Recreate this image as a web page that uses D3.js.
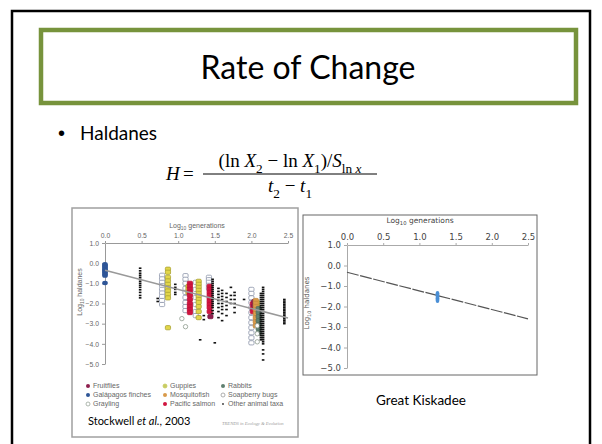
<!DOCTYPE html>
<html><head><meta charset="utf-8">
<script src="https://cdn.jsdelivr.net/npm/d3@7"></script>
<style>body{margin:0;background:#fff}svg{display:block}text{white-space:pre}</style>
</head><body>
<svg id="c" width="602" height="444"></svg>
<script>
// ---------- data ----------
const xTickVals = [0.0, 0.5, 1.0, 1.5, 2.0, 2.5];
const yTickVals = [1.0, 0.0, -1.0, -2.0, -3.0, -4.0, -5.0];
const trendLeft = [[0, -0.35], [2.5, -2.72]];
const trendRight = [[0, -0.33], [2.5, -2.6]];
const kiskadee = [[1.25, [-1.35, -1.42, -1.48, -1.54, -1.6, -1.66, -1.72]]];
const finches = [[0.0, [-0.05, -0.12, -0.18, -0.24, -0.3, -0.36, -0.42, -0.48, -0.55, -0.62, -0.98]]];
const soapberry = [
  [0.78, [-0.6, -0.78, -0.95, -1.12, -1.3, -1.48, -1.65, -1.85, -2.05]],
  [1.1, [-0.62, -0.8, -1.0, -1.25, -1.45, -1.7, -1.95, -2.15, -2.35]],
  [1.24, [-0.95, -1.3, -1.7, -2.05, -2.4, -2.6]],
  [1.42, [-0.7, -0.82, -0.95, -1.1, -1.25]],
  [2.0, [-1.3, -1.5, -1.72, -1.95, -2.2, -2.45, -2.7, -2.95, -3.2, -3.45, -3.7, -3.95]]
];
const guppies = [
  [0.86, [-0.3, -0.45, -0.7, -0.88, -1.05, -1.22, -1.38, -1.55, -1.72, -3.2]],
  [1.14, [-1.15, -1.3, -1.45]],
  [1.28, [-0.9, -1.05, -1.2, -1.35, -1.5, -1.65, -1.8, -1.95, -2.15, -2.4, -2.7]],
  [2.08, [-1.95, -2.15, -2.35, -2.55]]
];
const salmon = [
  [1.16, [-1.0, -1.15, -1.3, -1.45, -1.6, -1.8, -2.0, -2.15, -2.3, -2.45]],
  [1.43, [-1.15, -1.3, -1.45, -1.6, -1.75, -1.9, -2.05, -2.2, -2.4]],
  [2.02, [-2.0, -2.2, -2.4]]
];
const fruitflies = [[1.44, [-2.65]], [2.04, [-1.9, -2.1]]];
const mosquitofish = [[2.06, [-1.85, -2.0, -2.15, -2.3, -2.5, -2.7, -2.9, -3.1]]];
const rabbits = [[2.1, [-2.25, -2.45, -2.65, -2.85, -3.05, -3.25, -3.45]]];
const grayling = [[1.05, [-2.75]], [1.1, [-3.15]], [2.08, [-3.1, -3.5, -3.9]]];
const otherTaxa = [
  [0.48, [-0.25, -0.38, -0.5, -0.6, -0.7, -0.8, -0.9, -1.0, -1.1, -1.2, -1.32, -1.45, -1.6, -1.72]],
  [0.72, [-1.75, -1.9]],
  [0.96, [-1.05, -1.2, -1.3, -1.45, -1.55]],
  [1.3, [-3.8]], [1.5, [-3.95]], [1.35, [-2.6, -2.8]],
  [1.47, [-0.8, -0.9, -1.0, -1.1, -1.2, -1.3, -1.4, -1.5, -1.6, -1.7, -1.8, -1.9, -2.0, -2.1, -2.2, -2.35, -2.5]],
  [1.55, [-1.25, -1.4, -1.55, -1.7, -1.85, -2.0, -2.2, -2.4, -2.7]],
  [1.6, [-1.35, -1.5, -1.65, -1.8, -2.0, -2.15, -2.3, -2.5, -2.85]],
  [1.66, [-1.5, -1.7, -1.9, -2.1, -2.3, -2.6]],
  [1.72, [-1.2, -1.6, -1.8, -2.0]],
  [1.77, [-1.45, -1.6, -1.8, -2.0, -2.2, -2.45]],
  [1.9, [-1.8]],
  [2.13, [-1.5, -1.6, -1.7, -1.8, -1.9, -2.0, -2.1, -2.2, -2.3, -2.4, -2.5, -2.6, -2.7, -2.8, -2.9, -3.0, -3.1, -3.2, -3.3, -3.4, -3.5, -3.6, -3.7, -3.8]],
  [2.16, [-1.2, -1.3, -1.4, -1.5, -1.6, -1.7, -1.8, -1.9, -2.0, -2.1, -2.2, -2.3, -2.4, -2.5, -2.6, -2.7, -2.8, -2.9, -3.0, -3.1, -3.2, -3.3, -3.4, -3.5, -3.6, -3.7, -3.8, -3.9, -4.0, -4.3, -4.5, -4.8]],
  [2.45, [-1.8, -1.88, -1.96, -2.04, -2.12, -2.2, -2.28, -2.36, -2.44, -2.52, -2.6, -2.68, -2.76, -2.84, -2.92, -3.0]]
];
const legendNames = ['Fruitflies', 'Galápagos finches', 'Grayling', 'Guppies', 'Mosquitofish', 'Pacific salmon', 'Rabbits', 'Soapberry bugs', 'Other animal taxa'];

// ---------- drawing ----------
const svg = d3.select('#c');
const flat = cols => cols.flatMap(([x, ys]) => ys.map(y => [x, y]));
const sans = 'Lato, "Open Sans", sans-serif';
const serif = '"Liberation Serif", "Times New Roman", serif';

svg.append('rect').attr('x', 12).attr('y', 11).attr('width', 578).attr('height', 470)
  .attr('fill', 'none').attr('stroke', '#000').attr('stroke-width', 2.5);
svg.append('rect').attr('x', 41).attr('y', 30).attr('width', 535).attr('height', 73)
  .attr('fill', '#fff').attr('stroke', '#77933c').attr('stroke-width', 4.5);
svg.append('text').attr('x', 308).attr('y', 79).attr('text-anchor', 'middle')
  .attr('font-family', sans).attr('font-size', 32).text('Rate of Change');

svg.append('text').attr('x', 58).attr('y', 140).attr('font-family', 'Liberation Sans, Arial').attr('font-size', 20).text('•');
svg.append('text').attr('x', 80).attr('y', 140).attr('font-family', sans).attr('font-size', 19).text('Haldanes');

function rich(g, x, y, anchor, size, family, parts) {
  const t = g.append('text').attr('x', x).attr('y', y).attr('text-anchor', anchor)
    .attr('font-family', family).attr('font-size', size);
  let shift = 0;
  parts.forEach(p => {
    const ts = t.append('tspan').text(p.t);
    const target = p.sub ? size * 0.3 : 0;
    if (target !== shift) { ts.attr('dy', target - shift); shift = target; }
    if (p.sub) ts.attr('font-size', size * 0.7);
    if (p.i) ts.attr('font-style', 'italic');
  });
  return t;
}
// formula
rich(svg, 166, 180, 'start', 19, serif, [{t: 'H', i: 1}]);
rich(svg, 183, 180, 'start', 19, serif, [{t: '='}]);
rich(svg, 290, 167, 'middle', 19, serif, [{t: '(ln '}, {t: 'X', i: 1}, {t: '2', sub: 1}, {t: ' − ln '}, {t: 'X', i: 1}, {t: '1', sub: 1}, {t: ')/'}, {t: 'S', i: 1}, {t: 'ln ', sub: 1}, {t: 'x', sub: 1, i: 1}]);
svg.append('line').attr('x1', 203).attr('x2', 377).attr('y1', 174).attr('y2', 174).attr('stroke', '#000').attr('stroke-width', 1);
rich(svg, 290, 192, 'middle', 19, serif, [{t: 't', i: 1}, {t: '2', sub: 1}, {t: ' − '}, {t: 't', i: 1}, {t: '1', sub: 1}]);

// ---------- left chart ----------
const L = svg.append('g');
L.append('rect').attr('x', 72).attr('y', 208).attr('width', 226).attr('height', 229)
  .attr('fill', '#fff').attr('stroke', '#a0a0a0').attr('stroke-width', 1.5);
const xL = d3.scaleLinear().domain([0, 2.5]).range([105, 288]);
const yL = d3.scaleLinear().domain([1, -5]).range([243, 364]);
const lf = 'Liberation Sans, Arial, sans-serif';
const axL = L.append('g').attr('transform', `translate(0,${yL(1)})`)
  .call(d3.axisTop(xL).tickValues(xTickVals).tickFormat(d3.format('.1f')).tickSize(2).tickSizeOuter(0));
const ayL = L.append('g').attr('transform', `translate(${xL(0)},0)`)
  .call(d3.axisLeft(yL).tickValues(yTickVals).tickFormat(d => d === 0 ? '0.0' : d3.format('.1f')(d).replace('-', '−')).tickSize(3).tickSizeOuter(0));
[axL, ayL].forEach(a => {
  a.selectAll('path,line').attr('stroke', '#999');
  a.selectAll('text').attr('fill', '#666').attr('font-family', lf).attr('font-size', 6.8);
});
rich(L, 197, 228, 'middle', 7, lf, [{t: 'Log'}, {t: '10', sub: 1}, {t: ' generations'}]).attr('fill', '#666');
rich(L, 0, 0, 'middle', 7, lf, [{t: 'Log'}, {t: '10', sub: 1}, {t: ' haldanes'}]).attr('fill', '#666')
  .attr('transform', 'translate(82,292) rotate(-90)');

const lineGen = (xs, ys) => d3.line().x(d => xs(d[0])).y(d => ys(d[1]));
function squares(data, fill, stroke) {
  L.append('g').selectAll('rect').data(flat(data)).join('rect')
    .attr('x', d => xL(d[0]) - 2.6).attr('y', d => yL(d[1]) - 2.1).attr('width', 5.2).attr('height', 4.2).attr('rx', 1.2)
    .attr('fill', fill).attr('stroke', stroke).attr('stroke-width', 0.8);
}
squares(soapberry, '#fff', '#8a93a8');
squares(guppies, '#e2d64a', '#a9a232');
squares(salmon, '#d0153f', '#c01038');
squares(fruitflies, '#8e1f4e', '#7e1a44');
squares(mosquitofish, '#d99a4a', '#c58a3c');
squares(rabbits, '#5f8070', '#4f7060');
L.append('g').selectAll('circle').data(flat(grayling)).join('circle')
  .attr('cx', d => xL(d[0])).attr('cy', d => yL(d[1])).attr('r', 2.2)
  .attr('fill', '#fff').attr('stroke', '#9aa69a').attr('stroke-width', 0.9);
L.append('g').selectAll('ellipse').data(flat(finches)).join('ellipse')
  .attr('cx', d => xL(d[0])).attr('cy', d => yL(d[1])).attr('rx', 2.8).attr('ry', 2.2).attr('fill', '#2e5597');
L.append('g').selectAll('rect').data(flat(otherTaxa)).join('rect')
  .attr('x', d => xL(d[0]) - 1.3).attr('y', d => yL(d[1]) - 0.8).attr('width', 2.6).attr('height', 1.6).attr('fill', '#111');
L.append('path').datum(trendLeft).attr('d', lineGen(xL, yL)).attr('fill', 'none').attr('stroke', '#999').attr('stroke-width', 1.5);

// legend
const legendStyle = [
  {fill: '#8e1f4e'}, {fill: '#2e5597'}, {fill: '#fff', stroke: '#9aa69a'},
  {fill: '#c8cc60', stroke: '#c8cc60'}, {fill: '#d99a4a'}, {fill: '#d0153f'},
  {fill: '#5f8070'}, {fill: '#fff', stroke: '#999'}, {dot: true}
];
const lgX = [88, 165, 223], lgY = [386, 395, 404];
legendNames.forEach((n, k) => {
  const cx = lgX[Math.floor(k / 3)], cy = lgY[k % 3], s = legendStyle[k];
  if (s.dot) L.append('circle').attr('cx', cx).attr('cy', cy).attr('r', 0.9).attr('fill', '#333');
  else L.append('circle').attr('cx', cx).attr('cy', cy).attr('r', 2).attr('fill', s.fill)
    .attr('stroke', s.stroke || 'none').attr('stroke-width', 0.8);
  L.append('text').attr('x', cx + 5).attr('y', cy + 2.4).attr('font-family', lf).attr('font-size', 7)
    .attr('fill', '#666').text(n);
});
const st = L.append('text').attr('x', 88).attr('y', 425).attr('font-family', sans).attr('font-size', 11).attr('fill', '#000');
st.append('tspan').text('Stockwell ');
st.append('tspan').attr('font-style', 'italic').text('et al.');
st.append('tspan').text(', 2003');
L.append('text').attr('x', 222).attr('y', 425).attr('font-family', serif).attr('font-style', 'italic')
  .attr('font-size', 4.6).attr('fill', '#999').text('TRENDS in Ecology & Evolution');

// ---------- right chart ----------
const R = svg.append('g');
R.append('rect').attr('x', 303).attr('y', 215).attr('width', 234).attr('height', 160)
  .attr('fill', '#fff').attr('stroke', '#666').attr('stroke-width', 1);
const xR = d3.scaleLinear().domain([0, 2.5]).range([347, 528]);
const yR = d3.scaleLinear().domain([1, -5]).range([245, 368]);
const rf = '"DejaVu Sans", Verdana, sans-serif';
const axR = R.append('g').attr('transform', `translate(0,${yR(1)})`)
  .call(d3.axisTop(xR).tickValues(xTickVals).tickFormat(d3.format('.1f')).tickSize(2).tickSizeOuter(0));
const ayR = R.append('g').attr('transform', `translate(${xR(0)},0)`)
  .call(d3.axisLeft(yR).tickValues(yTickVals).tickFormat(d => d === 0 ? '0.0' : d3.format('.1f')(d)).tickSize(3).tickSizeOuter(0));
[axR, ayR].forEach(a => {
  a.selectAll('path,line').attr('stroke', '#aaa');
  a.selectAll('text').attr('fill', '#444').attr('font-family', rf).attr('font-size', 8.5);
});
rich(R, 420, 223, 'middle', 7.5, rf, [{t: 'Log'}, {t: '10', sub: 1}, {t: ' generations'}]).attr('fill', '#444');
rich(R, 0, 0, 'middle', 7, rf, [{t: 'Log'}, {t: '10', sub: 1}, {t: ' haldanes'}]).attr('fill', '#555')
  .attr('transform', 'translate(309,303) rotate(-90)');
R.append('path').datum(trendRight).attr('d', lineGen(xR, yR)).attr('fill', 'none')
  .attr('stroke', '#555').attr('stroke-width', 1.2).attr('stroke-dasharray', '12,1.5');
R.append('g').selectAll('ellipse').data(flat(kiskadee)).join('ellipse')
  .attr('cx', d => xR(d[0])).attr('cy', d => yR(d[1])).attr('rx', 1.8).attr('ry', 2.3).attr('fill', '#4a8fd6');
R.append('text').attr('x', 421).attr('y', 405).attr('text-anchor', 'middle').attr('font-family', sans)
  .attr('font-size', 13.5).text('Great Kiskadee');
</script>
</body></html>
